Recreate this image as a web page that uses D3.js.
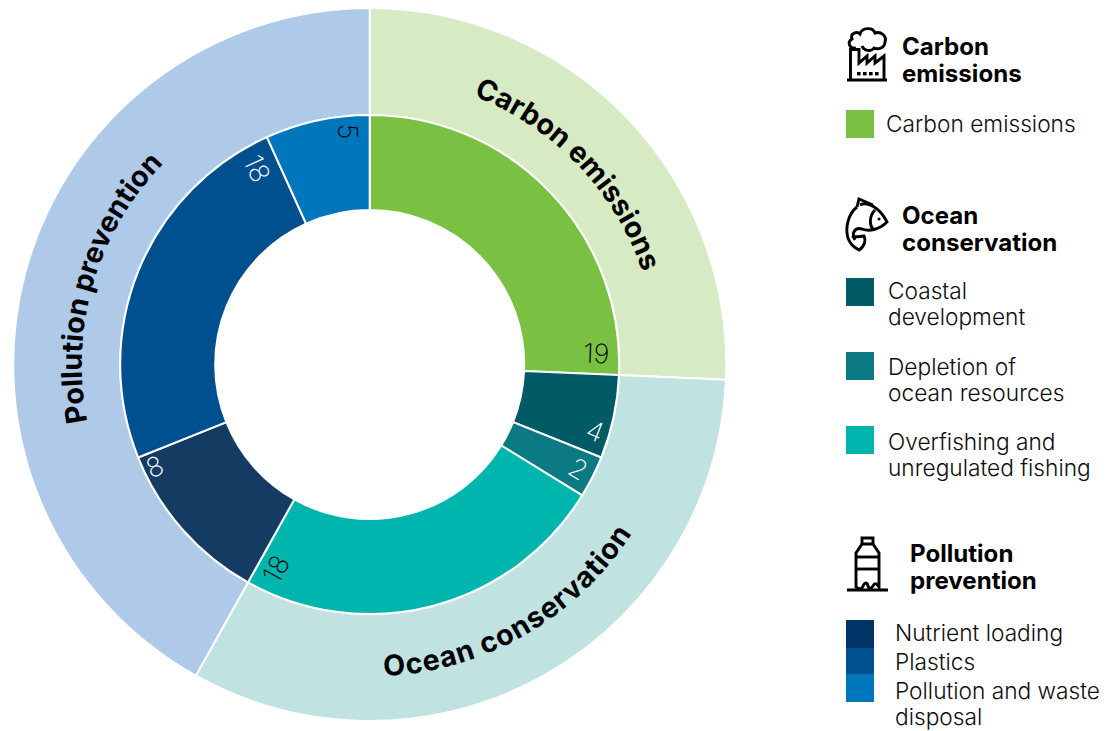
<!DOCTYPE html>
<html>
<head>
<meta charset="utf-8">
<script src="https://cdn.jsdelivr.net/npm/d3@7"></script>
<style>
  html, body { margin: 0; padding: 0; background: #fff; }
  svg { display: block; }
  .legend-item { font-family: "Inter", sans-serif; font-weight: 300; font-size: 22.7px; fill: #0d0d0d; }
  .legend-head { font-family: "Inter", sans-serif; font-weight: 700; font-size: 24.1px; fill: #000; }
  .ring-label { font-family: "Inter", sans-serif; font-weight: 700; font-size: 28.6px; fill: #000; }
  .value-label { font-family: "Inter", sans-serif; font-weight: 250; font-size: 27px; }
  .icon { fill: none; stroke: #000; stroke-width: 2.9; stroke-linejoin: miter; }
</style>
</head>
<body>
<svg id="chart" width="1113" height="731"></svg>
<script>
// Financing by theme: outer ring groups, inner ring sub-themes.
const groups = ["Carbon emissions", "Ocean conservation", "Pollution prevention"];
const groupColors = ["#d6eac3", "#c0e3e1", "#afc9e9"];

const categories = ["Carbon emissions", "Coastal development", "Depletion of ocean resources",
  "Overfishing and unregulated fishing", "Nutrient loading", "Plastics", "Pollution and waste disposal"];
const categoryGroup = [0, 1, 1, 1, 2, 2, 2];
const values = [19, 4, 2, 18, 8, 18, 5];
const sliceColors = ["#7ac143", "#005a65", "#0c7a82", "#00b5ad", "#143c62", "#00508f", "#0076bd"];
const labelColors = ["#000", "#fff", "#fff", "#000", "#fff", "#fff", "#000"];

const svg = d3.select("#chart");
const center = svg.append("g").attr("transform", "translate(369.7,364.5)");

const groupTotals = groups.map((_, g) => d3.sum(values.filter((_, i) => categoryGroup[i] === g)));
const pie = d3.pie().sort(null).value(d => d);
const innerSlices = pie(values);
const outerSlices = pie(groupTotals);

const outerArc = d3.arc().innerRadius(249.5).outerRadius(356.5);
const innerArc = d3.arc().innerRadius(154.5).outerRadius(249.5);

center.selectAll("path.outer").data(outerSlices).join("path")
  .attr("class", "outer")
  .attr("d", outerArc)
  .attr("fill", (d, i) => groupColors[i])
  .attr("stroke", "#fff").attr("stroke-width", 2);

center.selectAll("path.inner").data(innerSlices).join("path")
  .attr("class", "inner")
  .attr("d", innerArc)
  .attr("fill", (d, i) => sliceColors[i])
  .attr("stroke", "#fff").attr("stroke-width", 2);

// Value labels sit near the clockwise end of each slice, turned with its end edge.
const deg = 180 / Math.PI;
const labelBackAngle = [5.2, 5.4, 5.0, 4.6, 3.6, 5.6, 5.4];
const labelRadius = [227, 235, 233, 225, 238, 226, 234];
center.selectAll("text.value-label").data(innerSlices).join("text")
  .attr("class", "value-label")
  .attr("text-anchor", "middle")
  .attr("dominant-baseline", "central")
  .attr("fill", (d, i) => labelColors[i])
  .attr("transform", (d, i) => {
    const a = d.endAngle - labelBackAngle[i] / deg;
    const r = labelRadius[i];
    const x = r * Math.sin(a), y = -r * Math.cos(a);
    let rot = d.endAngle * deg - 90;
    if (rot > 90) rot -= 180;
    return `translate(${x},${y}) rotate(${rot})`;
  })
  .text(d => d.data);

// Curved group names follow the outer ring; the lower one runs anticlockwise to stay upright.
const labelSpec = [
  { radius: 288, reverse: false, offset: "50%", spacing: 0 },
  { radius: 312, reverse: true, offset: "50.7%", spacing: 0.9 },
  { radius: 288, reverse: false, offset: "51.2%", spacing: 0 }
];
outerSlices.forEach((s, i) => {
  const spec = labelSpec[i];
  const p = d3.path();
  const start = s.startAngle - Math.PI / 2, end = s.endAngle - Math.PI / 2;
  if (spec.reverse) {
    p.moveTo(spec.radius * Math.cos(end), spec.radius * Math.sin(end));
    p.arc(0, 0, spec.radius, end, start, true);
  } else {
    p.moveTo(spec.radius * Math.cos(start), spec.radius * Math.sin(start));
    p.arc(0, 0, spec.radius, start, end, false);
  }
  center.append("path").attr("id", "ring-path-" + i).attr("d", p.toString()).attr("fill", "none");
  center.append("text").attr("class", "ring-label")
    .attr("letter-spacing", spec.spacing)
    .append("textPath")
    .attr("href", "#ring-path-" + i)
    .attr("startOffset", spec.offset)
    .attr("text-anchor", "middle")
    .text(groups[i]);
});

// Legend
const legend = svg.append("g");
const swatch = 28;
const addLines = (cls, x, y, lines, leading) => {
  const text = legend.append("text").attr("class", cls).attr("x", x).attr("y", y);
  lines.forEach((t, i) => {
    text.append("tspan").attr("x", x).attr("dy", i ? leading : 0).text(t);
  });
};

const legendHeads = [
  { lines: ["Carbon", "emissions"], x: 902, y: 55 },
  { lines: ["Ocean", "conservation"], x: 902, y: 224 },
  { lines: ["Pollution", "prevention"], x: 910, y: 562 }
];
legendHeads.forEach(h => addLines("legend-head", h.x, h.y, h.lines, 27));

const legendRows = [
  { color: 0, top: 110, x: 886, lines: ["Carbon emissions"], base: 132 },
  { color: 1, top: 278, x: 888, lines: ["Coastal", "development"], base: 299 },
  { color: 2, top: 352, x: 888, lines: ["Depletion of", "ocean resources"], base: 375 },
  { color: 3, top: 426, x: 888, lines: ["Overfishing and", "unregulated fishing"], base: 450 },
  { color: 4, top: 620, x: 895, lines: ["Nutrient loading"], base: 641 },
  { color: 5, top: 648, x: 895, lines: ["Plastics"], base: 670 },
  { color: 6, top: 674, x: 895, lines: ["Pollution and waste", "disposal"], base: 699 }
];
const legendColors = ["#7ac143", "#005a65", "#0c7a82", "#00b5ad", "#003366", "#00508f", "#0076bd"];
legendRows.forEach(r => {
  legend.append("rect").attr("x", 846).attr("y", r.top)
    .attr("width", swatch).attr("height", swatch).attr("fill", legendColors[r.color]);
  addLines("legend-item", r.x, r.base, r.lines, 26);
});

// Theme pictograms beside the legend headings
const icons = svg.append("g").attr("class", "icon");
const factory = [
  "M847 80 H887",
  "M850.5 80 V49.5 H859 V63 L867 56 V63 L875 56 V63 L884 56 V80",
  "M856 48 C849 49 847 42 852 39 C850 33 857 31 860 34 C862 27 873 27 875 33 C881 31 887 36 885 42 C885 48 878 50 874 48 C871 52 864 51 862 46"
];
const fish = [
  "M857 207 L859 199 L873 205",
  "M860 205 C868 201 880 208 887 222 C880 229 870 232 862 229 C855 227 851 233 855 240",
  "M857 207 C848 214 845 228 848 238 C850 244 855 248 859 250 C865 246 866 240 864 236 C860 236 855 238 852 236",
  "M875 210 C869 216 869 226 874 230"
];
const bottle = [
  "M847 590 H888",
  "M862 544 V538 H873 V544 Z",
  "M862 544 L856 553 V587 C860 590 862 589 863 586 C865 582 867 582 868 586 C869 589 871 589 873 586 C875 582 877 584 879 587 V553 L873 544",
  "M856 557 H879",
  "M856 569 H879"
];
[factory, fish, bottle].forEach(list => {
  icons.selectAll(null).data(list).join("path").attr("d", d => d);
});
svg.append("g").attr("fill", "#000").selectAll("rect").data([857, 863, 869, 875]).join("rect")
  .attr("x", d => d).attr("y", 72).attr("width", 3.6).attr("height", 3.4);
svg.append("circle").attr("cx", 879).attr("cy", 219).attr("r", 1.5).attr("fill", "#000");
</script>
</body>
</html>
